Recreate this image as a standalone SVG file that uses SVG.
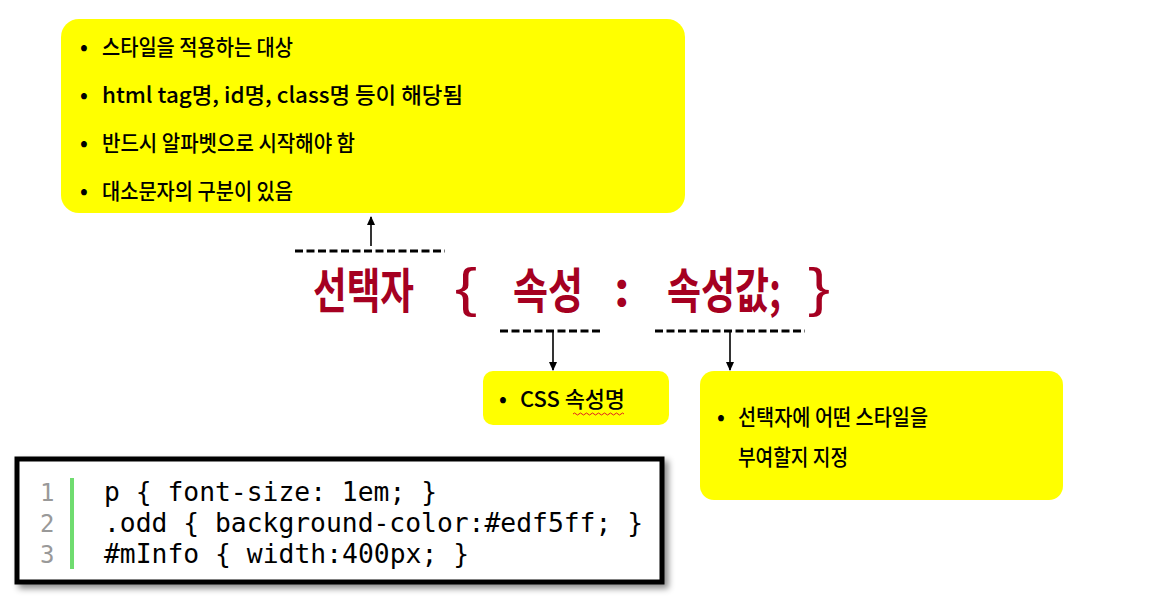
<svg xmlns="http://www.w3.org/2000/svg" width="1175" height="604" viewBox="0 0 1175 604">
<defs>
<style>
.box{fill:#ffff00;}
.kt{font-family:"Noto Sans CJK KR","Noto Sans",sans-serif;font-size:22px;font-weight:500;fill:#000;}
.big{font-family:"Noto Sans CJK KR","Noto Sans",sans-serif;font-size:48px;font-weight:700;fill:#a50021;}
.brace{font-family:"Liberation Sans",sans-serif;font-size:54px;font-weight:400;fill:#a50021;}
.dash{stroke:#000;stroke-width:2.8;stroke-dasharray:8 3.5;fill:none;}
.arr{stroke:#000;stroke-width:1.6;fill:none;marker-end:url(#ah);}
.code{font-family:"DejaVu Sans Mono","Liberation Mono",monospace;font-size:26px;fill:#000;}
.ln{font-family:"DejaVu Sans Mono","Liberation Mono",monospace;font-size:24px;fill:#999;}
</style>
<marker id="ah" markerWidth="10" markerHeight="10" refX="8" refY="5" orient="auto" markerUnits="userSpaceOnUse">
<path d="M0,1 L9,5 L0,9 Z" fill="#000"/>
</marker>
<filter id="sh" x="-5%" y="-10%" width="115%" height="130%">
<feGaussianBlur in="SourceAlpha" stdDeviation="3"/>
<feOffset dx="4" dy="4" result="b"/>
<feFlood flood-color="#000" flood-opacity="0.45"/>
<feComposite in2="b" operator="in"/>
<feMerge><feMergeNode/><feMergeNode in="SourceGraphic"/></feMerge>
</filter>
</defs>
<rect width="1175" height="604" fill="#fff"/>

<g id="selector-box">
<rect class="box" x="61" y="19" width="624" height="194" rx="18"/>
<text class="kt" x="80" y="55">•</text>
<text class="kt" x="102" y="55" textLength="191" lengthAdjust="spacingAndGlyphs">스타일을 적용하는 대상</text>
<text class="kt" x="80" y="103">•</text>
<text class="kt" x="102" y="103" textLength="361" lengthAdjust="spacingAndGlyphs">html tag명, id명, class명 등이 해당됨</text>
<text class="kt" x="80" y="151">•</text>
<text class="kt" x="102" y="151" textLength="253" lengthAdjust="spacingAndGlyphs">반드시 알파벳으로 시작해야 함</text>
<text class="kt" x="80" y="199">•</text>
<text class="kt" x="102" y="199" textLength="191" lengthAdjust="spacingAndGlyphs">대소문자의 구분이 있음</text>
</g>

<g id="syntax">
<text class="big" x="313" y="308" textLength="101" lengthAdjust="spacingAndGlyphs">선택자</text>
<text class="brace" x="455" y="306" textLength="22" lengthAdjust="spacingAndGlyphs">{</text>
<text class="big" x="513" y="308" textLength="70" lengthAdjust="spacingAndGlyphs">속성</text>
<text class="big" x="614" y="306">:</text>
<text class="big" transform="translate(667,308) scale(0.77,1)" x="0" y="0">속성값;</text>
<text class="brace" x="808" y="306" textLength="22" lengthAdjust="spacingAndGlyphs">}</text>
</g>

<g id="property-box">
<rect class="box" x="483" y="371" width="186" height="54" rx="10"/>
<text class="kt" x="499" y="407">•</text>
<text class="kt" x="520" y="407" textLength="105" lengthAdjust="spacingAndGlyphs">CSS 속성명</text>
<path d="M573,414 q1.5,-2 3,0 t3,0 t3,0 t3,0 t3,0 t3,0 t3,0 t3,0 t3,0 t3,0 t3,0 t3,0 t3,0 t3,0 t3,0 t3,0 t3,0" fill="none" stroke="#e02020" stroke-width="1"/>
</g>

<g id="value-box">
<rect class="box" x="700" y="371" width="363" height="129" rx="14"/>
<text class="kt" x="717" y="425">•</text>
<text class="kt" x="738" y="425" textLength="190" lengthAdjust="spacingAndGlyphs">선택자에 어떤 스타일을</text>
<text class="kt" x="738" y="465" textLength="110" lengthAdjust="spacingAndGlyphs">부여할지 지정</text>
</g>

<g id="code-box">
<rect x="17" y="459" width="645" height="123" fill="#fff" stroke="#000" stroke-width="5" filter="url(#sh)"/>
<rect x="70" y="478" width="4" height="91" fill="#6fdc6f"/>
<text class="ln" x="40" y="501">1</text>
<text class="ln" x="40" y="532">2</text>
<text class="ln" x="40" y="563">3</text>
<text class="code" x="104" y="501" textLength="333" lengthAdjust="spacingAndGlyphs">p { font-size: 1em; }</text>
<text class="code" x="104" y="532" textLength="539" lengthAdjust="spacingAndGlyphs">.odd { background-color:#edf5ff; }</text>
<text class="code" x="104" y="563" textLength="365" lengthAdjust="spacingAndGlyphs">#mInfo { width:400px; }</text>
</g>

<g id="connectors">
<line class="dash" x1="295" y1="251" x2="445" y2="251"/>
<line class="arr" x1="371" y1="246" x2="371" y2="217"/>
<line class="dash" x1="500" y1="331" x2="600" y2="331"/>
<line class="arr" x1="553" y1="331" x2="553" y2="370"/>
<line class="dash" x1="655" y1="331" x2="805" y2="331"/>
<line class="arr" x1="730" y1="331" x2="730" y2="370"/>
</g>
</svg>
